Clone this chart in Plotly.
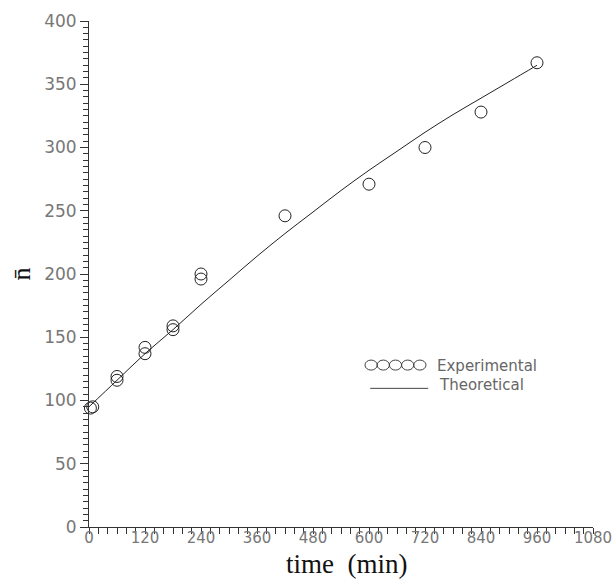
import plotly.graph_objects as go

exp_t = [3, 8, 60, 60, 120, 120, 180, 180, 240, 240, 420, 600, 720, 840, 960]
exp_n = [94, 95, 116, 119, 137, 142, 156, 159, 196, 200, 246, 271, 300, 328, 367]

theo_t = [0, 60, 120, 180, 240, 300, 360, 420, 480, 540, 600, 660, 720, 780, 840, 900, 960]
theo_n = [95, 116, 137, 156, 176, 195, 214, 232, 249, 266, 282, 297, 312, 326, 339, 352, 365]

x_ticks = [0, 120, 240, 360, 480, 600, 720, 840, 960, 1080]
y_ticks = [0, 50, 100, 150, 200, 250, 300, 350, 400]

fig = go.Figure()
fig.add_trace(go.Scatter(x=theo_t, y=theo_n, mode="lines", line=dict(color="#222", width=1),
                         line_shape="spline", showlegend=False))
fig.add_trace(go.Scatter(x=exp_t, y=exp_n, mode="markers", cliponaxis=False,
                         marker=dict(symbol="circle-open", size=12, color="#222", line=dict(width=1)),
                         showlegend=False))

tickfont = dict(family="DejaVu Sans", size=17, color="#777")
fig.update_xaxes(range=[0, 1080], tickvals=x_ticks, ticks="outside", ticklen=6, tickcolor="#333",
                 showline=True, linecolor="#333", linewidth=1, showgrid=False, zeroline=False,
                 tickfont=dict(family="DejaVu Sans", size=15, color="#777"),
                 automargin=False, ticklabelstandoff=-9,
                 minor=dict(dtick=20, ticks="outside", ticklen=6, tickcolor="#333", showgrid=False))
fig.update_yaxes(range=[0, 400], tickvals=y_ticks, ticks="outside", ticklen=8, tickcolor="#333",
                 showline=True, linecolor="#333", linewidth=1, showgrid=False, zeroline=False,
                 tickfont=tickfont, automargin=False,
                 minor=dict(dtick=5, ticks="outside", ticklen=5, tickcolor="#333", showgrid=False),
                 title=dict(text="n\u0304", font=dict(family="Liberation Serif", size=26, color="#111"),
                            standoff=6))

fig.add_annotation(x=0.51, y=-0.074, xref="paper", yref="paper", text="time  (min)",
                   showarrow=False, xanchor="center", yanchor="middle",
                   font=dict(family="Liberation Serif", size=27, color="#111"))

# custom legend (paper coords of plot area)
cw = 0.0242
ch = 0.0198
lx0 = 0.5476
ly1 = 0.320
for i in range(5):
    cx = lx0 + i * cw
    fig.add_shape(type="circle", xref="paper", yref="paper",
                  x0=cx, x1=cx + cw, y0=ly1 - ch / 2, y1=ly1 + ch / 2,
                  line=dict(color="#444", width=1))
fig.add_annotation(x=0.686, y=0.318, xref="paper", yref="paper", text="Experimental",
                   showarrow=False, xanchor="left", yanchor="middle",
                   font=dict(family="DejaVu Sans", size=15, color="#666"))
fig.add_shape(type="line", xref="paper", yref="paper", x0=0.558, x1=0.673,
              y0=0.274, y1=0.274, line=dict(color="#444", width=1))
fig.add_annotation(x=0.690, y=0.281, xref="paper", yref="paper", text="Theoretical",
                   showarrow=False, xanchor="left", yanchor="middle",
                   font=dict(family="DejaVu Sans", size=15, color="#666"))

fig.update_layout(width=616, height=579, margin=dict(l=89, r=23, t=21, b=52),
                  plot_bgcolor="white", paper_bgcolor="white")
fig.write_html("out.html")
